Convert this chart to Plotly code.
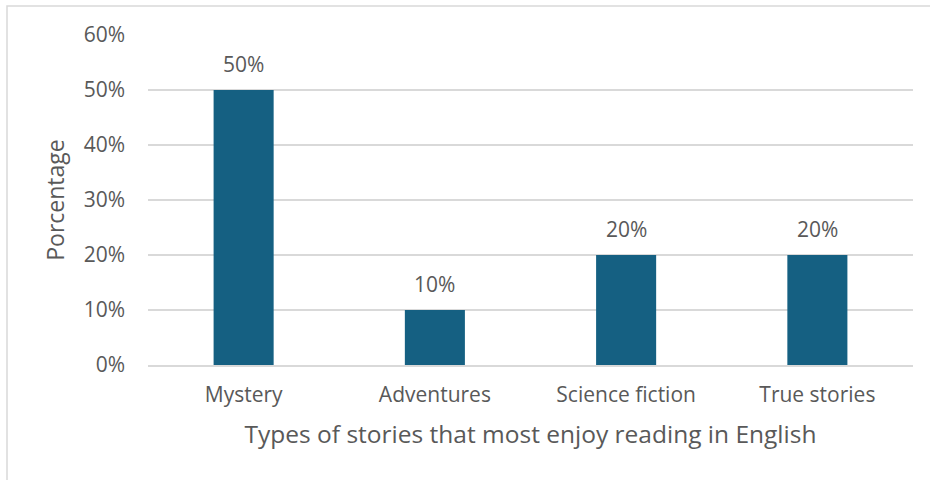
import plotly.graph_objects as go

categories = ["Mystery", "Adventures", "Science fiction", "True stories"]
values = [0.50, 0.10, 0.20, 0.20]
y_ticks = [0, 0.1, 0.2, 0.3, 0.4, 0.5, 0.6]
y_tick_labels = ["0%", "10%", "20%", "30%", "40%", "50%", "60%"]
x_title = "Types of stories that most enjoy reading in English"
y_title = "Porcentage"

FONT = "Open Sans, Lato, sans-serif"
TXT = "#595959"

fig = go.Figure(go.Bar(
    x=categories, y=values,
    marker=dict(color="#156082", line=dict(width=0)),
    hoverinfo="skip",
))

for c, v in zip(categories, values):
    fig.add_annotation(x=c, y=v, text=f"{v*100:.0f}%", showarrow=False,
                       yanchor="bottom", yshift=10,
                       font=dict(family=FONT, size=21, color=TXT))

W, H = 930, 480
ml, mr, mt, mb = 148, 17, 35, 115
pw, ph = W - ml - mr, H - mt - mb

fig.update_layout(
    width=W, height=H,
    margin=dict(l=ml, r=mr, t=mt, b=mb),
    paper_bgcolor="white", plot_bgcolor="white",
    bargap=0.686,
    showlegend=False,
    font=dict(family=FONT, color=TXT),
    shapes=[dict(type="rect", xref="paper", yref="paper",
                 x0=(7 - ml) / pw, x1=(935 - ml) / pw,
                 y0=(H - mb - 490) / ph, y1=(H - mb - 6) / ph,
                 line=dict(color="#D9D9D9", width=1.5), fillcolor="rgba(0,0,0,0)", layer="below")],
)
fig.update_xaxes(
    showgrid=False, showline=True, linecolor="#D9D9D9", linewidth=1.5,
    ticks="", ticklabelstandoff=10, tickfont=dict(family=FONT, size=21, color=TXT),
    title=dict(text=x_title, font=dict(family=FONT, size=24.5, color=TXT), standoff=19),
)
fig.update_yaxes(
    range=[0, 0.6], tickvals=y_ticks, ticktext=y_tick_labels,
    showgrid=True, gridcolor="#D9D9D9", gridwidth=1.5, zeroline=False,
    showline=False, ticks="", ticklabelstandoff=22,
    tickfont=dict(family=FONT, size=21, color=TXT),
    title=dict(text=y_title, font=dict(family=FONT, size=23, color=TXT), standoff=12),
)

fig.write_html("out.html", config={"displayModeBar": False},
               post_script="document.body.style.margin='0';document.body.style.padding='0';")
